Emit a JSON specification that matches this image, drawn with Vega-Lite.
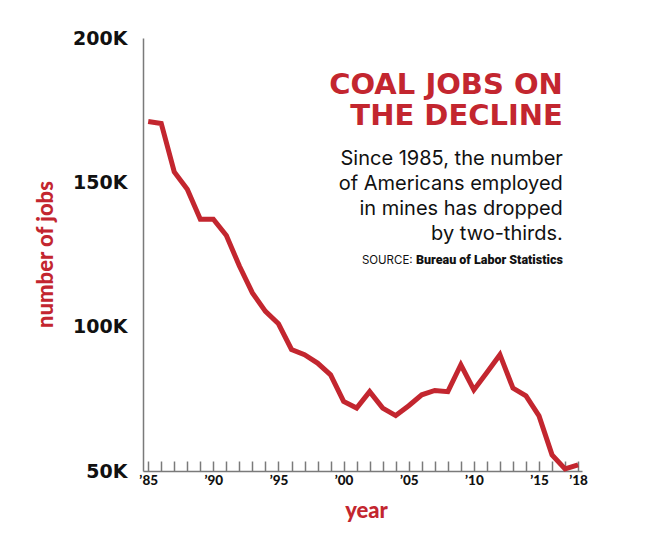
{
  "$schema": "https://vega.github.io/schema/vega-lite/v6.json",
  "width": 439,
  "height": 433,
  "autosize": "none",
  "padding": {"left": 143, "top": 38, "right": 63, "bottom": 73},
  "background": "white",
  "config": {"view": {"stroke": null}},
  "datasets": {
    "jobs": [
      {"year": 1985, "jobs": 171100},
      {"year": 1986, "jobs": 170400},
      {"year": 1987, "jobs": 153600},
      {"year": 1988, "jobs": 147600},
      {"year": 1989, "jobs": 137200},
      {"year": 1990, "jobs": 137200},
      {"year": 1991, "jobs": 131600},
      {"year": 1992, "jobs": 121000},
      {"year": 1993, "jobs": 111700},
      {"year": 1994, "jobs": 105300},
      {"year": 1995, "jobs": 101000},
      {"year": 1996, "jobs": 92100},
      {"year": 1997, "jobs": 90300},
      {"year": 1998, "jobs": 87400},
      {"year": 1999, "jobs": 83300},
      {"year": 2000, "jobs": 74100},
      {"year": 2001, "jobs": 71800},
      {"year": 2002, "jobs": 77500},
      {"year": 2003, "jobs": 71800},
      {"year": 2004, "jobs": 69200},
      {"year": 2005, "jobs": 72600},
      {"year": 2006, "jobs": 76400},
      {"year": 2007, "jobs": 77900},
      {"year": 2008, "jobs": 77500},
      {"year": 2009, "jobs": 86800},
      {"year": 2010, "jobs": 78100},
      {"year": 2011, "jobs": 84100},
      {"year": 2012, "jobs": 90300},
      {"year": 2013, "jobs": 78700},
      {"year": 2014, "jobs": 76000},
      {"year": 2015, "jobs": 69100},
      {"year": 2016, "jobs": 55600},
      {"year": 2017, "jobs": 50700},
      {"year": 2018, "jobs": 52100}
    ],
    "headline": [
      {"x": 2016.83, "y": 180600, "text": ["COAL JOBS ON", "THE DECLINE"]}
    ],
    "dek": [
      {"x": 2016.83, "y": 156010, "text": ["Since 1985, the number", "of Americans employed", "in mines has dropped", "by two-thirds."]}
    ],
    "sourceLabel": [
      {"x": 2005.3, "y": 121718, "text": "SOURCE:"}
    ],
    "sourceName": [
      {"x": 2016.83, "y": 121718, "text": "Bureau of Labor Statistics"}
    ]
  },
  "layer": [
    {
      "data": {"name": "jobs"},
      "mark": {"type": "line", "color": "#c3262f", "strokeWidth": 5, "strokeJoin": "miter", "strokeCap": "butt"},
      "encoding": {
        "x": {
          "field": "year",
          "type": "quantitative",
          "scale": {"domain": [1984.6, 2018.3], "nice": false, "zero": false},
          "axis": {
            "values": [1985,1986,1987,1988,1989,1990,1991,1992,1993,1994,1995,1996,1997,1998,1999,2000,2001,2002,2003,2004,2005,2006,2007,2008,2009,2010,2011,2012,2013,2014,2015,2016,2017,2018],
            "tickCount": 40,
            "labelExpr": "(datum.value % 5 == 0 || datum.value == 2018) ? '’' + substring(toString(datum.value), 2) : ''",
            "title": "year",
            "titleColor": "#c3262f",
            "titleFont": "Lato",
            "titleFontWeight": 900,
            "titleFontSize": 22,
            "titleX": 223,
            "titleY": 39,
            "titleBaseline": "middle",
            "titleAlign": "center",
            "labelFont": "Lato",
            "labelFontWeight": 900,
            "labelFontSize": 13.5,
            "labelColor": "#111111",
            "labelPadding": 12,
            "labelOverlap": false,
            "labelFlush": false,
            "tickSize": -10,
            "tickColor": "#7a7a7a",
            "tickWidth": 1.5,
            "domainColor": "#7a7a7a",
            "domainWidth": 1.5,
            "grid": false
          }
        },
        "y": {
          "field": "jobs",
          "type": "quantitative",
          "scale": {"domain": [50000, 200000], "nice": false, "zero": false},
          "axis": {
            "values": [50000, 100000, 150000, 200000],
            "labelExpr": "(datum.value / 1000) + 'K'",
            "title": "number of jobs",
            "titleColor": "#c3262f",
            "titleFont": "Lato",
            "titleFontWeight": 900,
            "titleFontSize": 22,
            "titleX": -98,
            "titleY": 216,
            "titleAngle": -90,
            "titleBaseline": "middle",
            "titleAlign": "center",
            "labelFont": "DejaVu Sans",
            "labelFontWeight": "bold",
            "labelFontSize": 19,
            "labelColor": "#111111",
            "labelPadding": 16,
            "ticks": false,
            "domainColor": "#7a7a7a",
            "domainWidth": 1.5,
            "grid": false
          }
        }
      }
    },
    {
      "data": {"name": "headline"},
      "mark": {"type": "text", "align": "right", "baseline": "alphabetic", "font": "DejaVu Sans", "fontWeight": "bold", "fontSize": 29, "lineHeight": 31, "color": "#c3262f"},
      "encoding": {
        "x": {"field": "x", "type": "quantitative"},
        "y": {"field": "y", "type": "quantitative"},
        "text": {"field": "text"}
      }
    },
    {
      "data": {"name": "dek"},
      "mark": {"type": "text", "align": "right", "baseline": "alphabetic", "font": "Inter", "fontWeight": 400, "fontSize": 20, "lineHeight": 25, "color": "#111111"},
      "encoding": {
        "x": {"field": "x", "type": "quantitative"},
        "y": {"field": "y", "type": "quantitative"},
        "text": {"field": "text"}
      }
    },
    {
      "data": {"name": "sourceLabel"},
      "mark": {"type": "text", "align": "right", "baseline": "alphabetic", "font": "Inter", "fontWeight": 400, "fontSize": 11.5, "color": "#111111"},
      "encoding": {
        "x": {"field": "x", "type": "quantitative"},
        "y": {"field": "y", "type": "quantitative"},
        "text": {"field": "text"}
      }
    },
    {
      "data": {"name": "sourceName"},
      "mark": {"type": "text", "align": "right", "baseline": "alphabetic", "font": "Roboto", "fontWeight": 900, "fontSize": 12.5, "color": "#111111"},
      "encoding": {
        "x": {"field": "x", "type": "quantitative"},
        "y": {"field": "y", "type": "quantitative"},
        "text": {"field": "text"}
      }
    }
  ]
}
